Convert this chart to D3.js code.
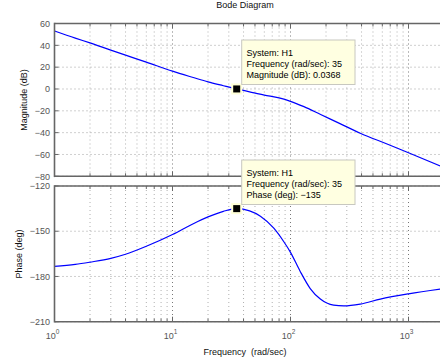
<!DOCTYPE html>
<html><head><meta charset="utf-8">
<script src="https://cdn.jsdelivr.net/npm/d3@7"></script>
<style>
html,body{margin:0;padding:0;background:#fff;}
svg{display:block;font-family:"Liberation Sans",Arial,Helvetica,sans-serif;}
</style></head>
<body><svg id="c" width="440" height="362"></svg>
<script>
// ---- data ----
const magFreq = [1, 1.5, 2, 3, 4, 6, 10, 15, 20, 27, 35, 45, 60, 80, 100, 130, 180, 260, 390, 650, 1000, 2000];
const magDb   = [53.2, 46.6, 42.2, 35.6, 31.0, 24.6, 16.3, 10.5, 6.5, 3.0, 0.04, -2.6, -5.6, -8.2, -11.3, -16.2, -23.4, -31.5, -40.5, -50.2, -58.4, -72.0];
const phaseFreq = [1, 1.5, 2, 3, 4, 6, 10, 15, 20, 27, 35, 45, 55.6, 72.2, 87.8, 100, 120.6, 147, 179, 232, 283, 390, 577, 1000, 2000];
const phaseDeg  = [-173.3, -172.0, -170.5, -168.0, -165.3, -160.0, -152.2, -145.0, -140.5, -136.8, -135.0, -136.5, -140.0, -148.0, -157.0, -164.0, -176.5, -188.0, -195.0, -199.0, -199.5, -198.3, -195.0, -191.5, -188.0];
const magTicks = [60, 40, 20, 0, -20, -40, -60, -80];
const phaseTicks = [-120, -150, -180, -210];
const xDecades = [0, 1, 2, 3];
const tipMag = ["System: H1", "Frequency (rad/sec): 35", "Magnitude (dB): 0.0368"];
const tipPhase = ["System: H1", "Frequency (rad/sec): 35", "Phase (deg): \u2212135"];
const tipFreq = 35, tipMagVal = 0.0368, tipPhaseVal = -135;

const svg = d3.select("#c");
const fmt = v => (v < 0 ? "\u2212" + Math.abs(v) : "" + v);

const x = d3.scaleLog().domain([1, 2000]).range([54.5, 54.5 + 118 * Math.log10(2000)]);
const yMag = d3.scaleLinear().domain([-80, 60]).range([176.3, 23.5]);
const yPh = d3.scaleLinear().domain([-210, -120]).range([321.7, 186]);

const minors = [];
for (let d = 0; d <= 3; d++) for (let k = 1; k <= 9; k++) { const v = k * Math.pow(10, d); if (v <= 2000) minors.push(v); }
const isMajor = d => Math.abs(Math.log10(d) - Math.round(Math.log10(d))) < 1e-9;

svg.append("defs").append("clipPath").attr("id", "clipAll")
  .append("rect").attr("x", 54.5).attr("y", 0).attr("width", 400).attr("height", 362);

function panel(y, ticks, id) {
  const [y1, y0] = y.range();
  const g = svg.append("g").attr("clip-path", "url(#clipAll)");
  g.selectAll(".vg").data(minors).enter().append("line")
    .attr("x1", d => x(d)).attr("x2", d => x(d)).attr("y1", y0).attr("y2", y1)
    .attr("stroke", d => isMajor(d) ? "#777" : "#b0b0b0")
    .attr("stroke-width", 1).attr("stroke-dasharray", "1,3");
  g.selectAll(".hg").data(ticks).enter().append("line")
    .attr("x1", 54.5).attr("x2", 450).attr("y1", d => y(d)).attr("y2", d => y(d))
    .attr("stroke", "#a0a0a0").attr("stroke-width", 1).attr("stroke-dasharray", "1,3");
  g.selectAll(".tt").data(minors).enter().append("line")
    .attr("x1", d => x(d)).attr("x2", d => x(d)).attr("y1", y0)
    .attr("y2", d => y0 + (isMajor(d) ? 5 : 3)).attr("stroke", "#666");
  g.selectAll(".tb").data(minors).enter().append("line")
    .attr("x1", d => x(d)).attr("x2", d => x(d)).attr("y1", y1)
    .attr("y2", d => y1 - (isMajor(d) ? 5 : 3)).attr("stroke", "#666");
  g.selectAll(".tl").data(ticks).enter().append("line")
    .attr("x1", 54.5).attr("x2", 58.5).attr("y1", d => y(d)).attr("y2", d => y(d)).attr("stroke", "#666");
  g.append("line").attr("x1", 54.5).attr("x2", 450).attr("y1", y0).attr("y2", y0).attr("stroke", "#666").attr("stroke-width", 1.6);
  g.append("line").attr("x1", 54.5).attr("x2", 450).attr("y1", y1).attr("y2", y1).attr("stroke", "#666").attr("stroke-width", 1.6);
  svg.append("line").attr("x1", 54.5).attr("x2", 54.5).attr("y1", y0 - 0.8).attr("y2", y1 + 0.8).attr("stroke", "#666").attr("stroke-width", 1.6);
  svg.selectAll(".yl" + id).data(ticks).enter().append("text")
    .attr("x", 50).attr("y", d => y(d) + 3.2).attr("text-anchor", "end")
    .attr("font-size", 9).attr("fill", "#555").text(fmt);
  return g;
}

const gm = panel(yMag, magTicks, "m");
const gp = panel(yPh, phaseTicks, "p");

const magPts = magFreq.map((f, i) => [f, magDb[i]]);
const phPts = phaseFreq.map((f, i) => [f, phaseDeg[i]]);
gm.append("path").datum(magPts)
  .attr("d", d3.line().x(d => x(d[0])).y(d => yMag(d[1])).curve(d3.curveMonotoneX))
  .attr("fill", "none").attr("stroke", "#0000ff").attr("stroke-width", 1.2);
gp.append("path").datum(phPts)
  .attr("d", d3.line().x(d => x(d[0])).y(d => yPh(d[1])).curve(d3.curveMonotoneX))
  .attr("fill", "none").attr("stroke", "#0000ff").attr("stroke-width", 1.2);

const xl = svg.selectAll(".xt").data(xDecades).enter().append("text")
  .attr("x", d => x(Math.pow(10, d)) - 2).attr("y", 338.5).attr("text-anchor", "middle")
  .attr("font-size", 9).attr("fill", "#555");
xl.append("tspan").text("10");
xl.append("tspan").attr("dy", -5).attr("font-size", 6.5).text(d => d);

svg.append("text").attr("x", 245).attr("y", 7.5).attr("text-anchor", "middle").attr("font-size", 9).attr("fill", "#111").text("Bode Diagram");
svg.append("text").attr("x", 245).attr("y", 355).attr("text-anchor", "middle").attr("font-size", 9).attr("fill", "#111").attr("xml:space", "preserve").text("Frequency  (rad/sec)");
svg.append("text").attr("transform", "translate(27,100) rotate(-90)").attr("text-anchor", "middle").attr("font-size", 9).attr("fill", "#111").text("Magnitude (dB)");
svg.append("text").attr("transform", "translate(21.5,254) rotate(-90)").attr("text-anchor", "middle").attr("font-size", 9).attr("fill", "#111").text("Phase (deg)");

function tip(px, py, top, lines) {
  svg.append("rect").attr("x", px - 5.5).attr("y", py - 5.5).attr("width", 11).attr("height", 11).attr("fill", "#ffffd8");
  svg.append("rect").attr("x", px - 3.5).attr("y", py - 3.5).attr("width", 7).attr("height", 7).attr("fill", "#000");
  svg.append("rect").attr("x", 241.7).attr("y", top).attr("width", 113.3).attr("height", 44.5)
    .attr("fill", "#ffffe1").attr("stroke", "#c8c8c0").attr("stroke-width", 1);
  svg.append("g").selectAll("text").data(lines).enter().append("text")
    .attr("x", 246.5).attr("y", (d, i) => top + 15.5 + i * 11).attr("font-size", 9).attr("fill", "#000").text(d => d);
}
tip(x(tipFreq), yMag(tipMagVal), 40, tipMag);
tip(x(tipFreq), yPh(tipPhaseVal), 160, tipPhase);
</script></body></html>
